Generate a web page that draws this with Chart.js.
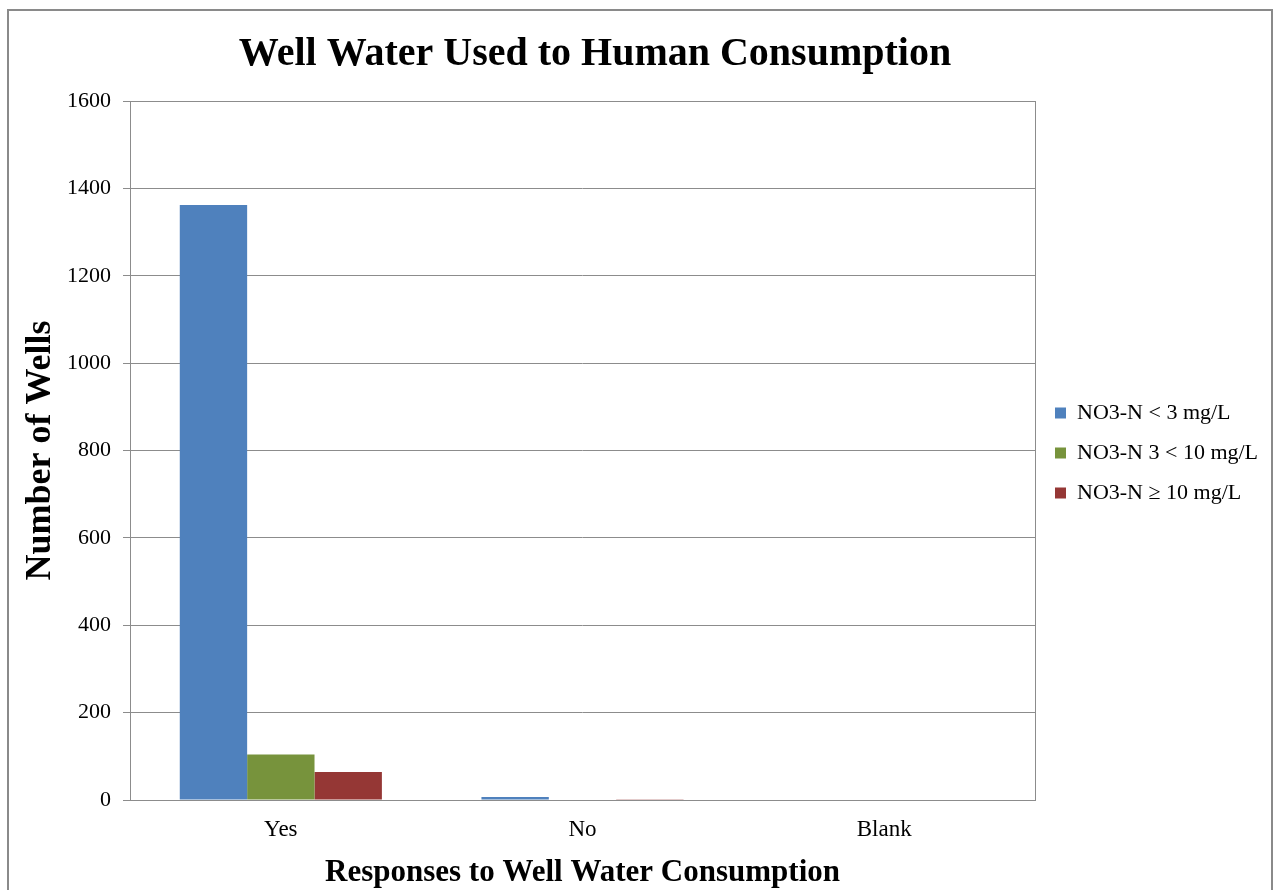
<!DOCTYPE html>
<html>
<head>
<meta charset="utf-8">
<script src="https://cdn.jsdelivr.net/npm/chart.js@4/dist/chart.umd.min.js"></script>
<style>
  html, body { margin: 0; padding: 0; background: #fff; }
  #wrap { width: 1276px; height: 890px; position: relative; }
</style>
</head>
<body>
<div id="wrap"><canvas id="chartWells" width="1276" height="890"></canvas></div>
<script>
const responses = ['Yes', 'No', 'Blank'];
const seriesNames = ['NO3-N < 3 mg/L', 'NO3-N 3 < 10 mg/L', 'NO3-N \u2265 10 mg/L'];
const lowNitrate = [1362, 7, 0];
const midNitrate = [104, 0, 0];
const highNitrate = [64, 2, 0];
const seriesColors = ['#4f81bd', '#77933c', '#953735'];

const serif = 'Liberation Serif';

// outer frame + plot area border, excel style
const framePlugin = {
    id: 'frame',
    beforeInit(chart) {
        const fit = chart.legend.fit;
        chart.legend.fit = function () {
            fit.bind(this)();
            this.width = 241;
        };
    },
    afterLayout(chart) {
        const t = chart.titleBlock;
        t.left = 0;
        t.right = 1190;
        t.width = 1190;
        const lg = chart.legend;
        lg.left += 2;
        lg.right += 2;
        lg.top += 8;
        lg.bottom += 8;
    },
    beforeDraw(chart) {
        const ctx = chart.ctx;
        ctx.save();
        ctx.strokeStyle = '#8a8a8a';
        ctx.lineWidth = 2;
        ctx.strokeRect(8, 10, 1264, 900);
        ctx.restore();
    },
    afterDatasetsDraw(chart) {
        const a = chart.chartArea;
        const ctx = chart.ctx;
        ctx.save();
        ctx.strokeStyle = '#8c8c8c';
        ctx.lineWidth = 1;
        ctx.strokeRect(Math.round(a.left) + 0.5, Math.round(a.top) + 0.5,
            Math.round(a.right - a.left), Math.round(a.bottom - a.top));
        ctx.restore();
    }
};

new Chart(document.querySelector('#chartWells').getContext('2d'), {
    type: 'bar',
    data: {
        labels: responses,
        datasets: [
            { label: seriesNames[0], data: lowNitrate, backgroundColor: seriesColors[0] },
            { label: seriesNames[1], data: midNitrate, backgroundColor: seriesColors[1] },
            { label: seriesNames[2], data: highNitrate, backgroundColor: seriesColors[2] }
        ]
    },
    options: {
        responsive: false,
        animation: false,
        categoryPercentage: 0.67,
        barPercentage: 1,
        plugins: {
            title: {
                display: true,
                text: 'Well Water Used to Human Consumption',
                color: '#000',
                font: { family: serif, size: 40, weight: 'bold' },
                padding: { top: 31, bottom: 22 }
            },
            legend: {
                position: 'right',
                labels: {
                    color: '#000',
                    font: { family: serif, size: 22 },
                    boxWidth: 11,
                    boxHeight: 11,
                    padding: 18
                }
            },
            tooltip: { enabled: false }
        },
        scales: {
            x: {
                afterFit(scale) { scale.height = 90; },
                grid: { display: false, drawTicks: false },
                border: { display: false },
                ticks: { color: '#000', font: { family: serif, size: 23 }, padding: 16 },
                title: {
                    display: true,
                    text: 'Responses to Well Water Consumption',
                    color: '#000',
                    font: { family: serif, size: 31, weight: 'bold' },
                    padding: { top: 0, bottom: -2 }
                }
            },
            y: {
                min: 0,
                max: 1600,
                afterFit(scale) { scale.width = 130; },
                grid: { color: '#8c8c8c', tickLength: 7 },
                border: { display: false },
                ticks: {
                    stepSize: 200,
                    color: '#000',
                    font: { family: serif, size: 22 },
                    padding: 12,
                    callback: v => String(v)
                },
                title: {
                    display: true,
                    text: 'Number of Wells',
                    color: '#000',
                    font: { family: serif, size: 36, weight: 'bold' },
                    padding: { top: 19, bottom: 0 }
                }
            }
        }
    },
    plugins: [framePlugin]
});
</script>
</body>
</html>
